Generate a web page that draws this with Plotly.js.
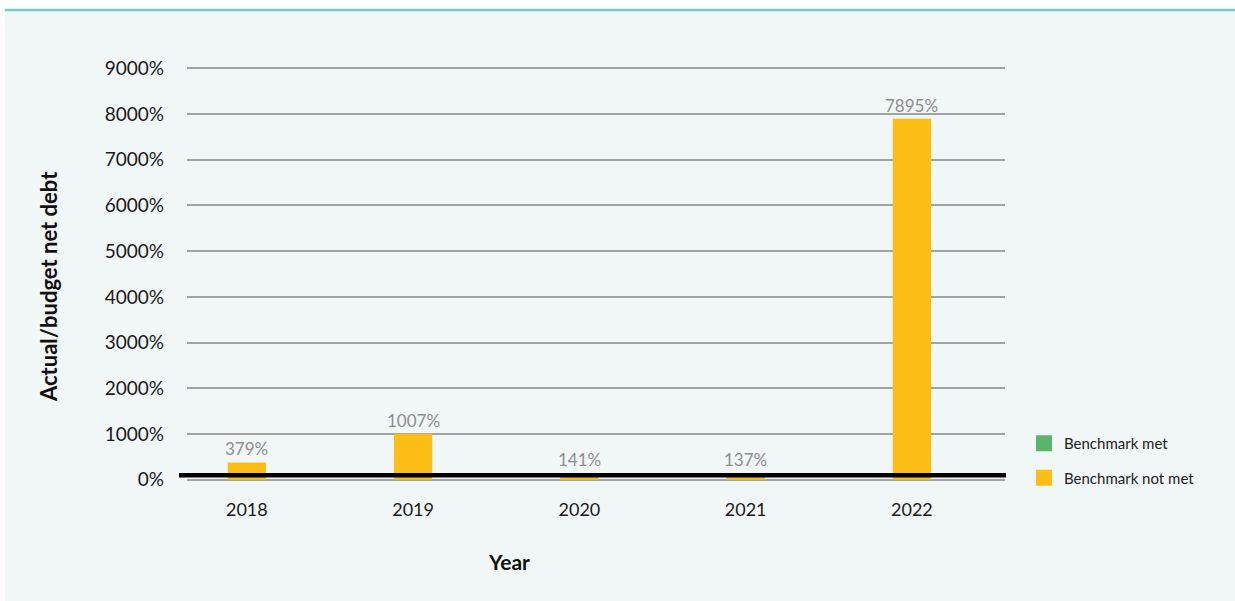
<!DOCTYPE html>
<html>
<head>
<meta charset="utf-8">
<script src="https://cdn.plot.ly/plotly-3.0.1.min.js"></script>
<style>html,body{margin:0;padding:0;background:#fff;}#chart{width:1235px;height:601px;}</style>
</head>
<body>
<div id="chart"></div>
<script>
const years = ['2018', '2019', '2020', '2021', '2022'];
const notMetValues = [379, 1007, 141, 137, 7895];
const metValues = [null, null, null, null, null];
const benchmark = 100;
const yTickVals = [0, 1000, 2000, 3000, 4000, 5000, 6000, 7000, 8000, 9000];
const yTickText = yTickVals.map(v => v + '%');
const seriesNames = ['Benchmark met', 'Benchmark not met'];
const seriesColors = ['#5BB46C', '#FCBE14'];

const W = 1235, H = 601;
const L = 187, R = 1005, T = 66, B = 482;
const pw = R - L, ph = B - T;
const px = x => (x - L) / pw;
const py = y => (B - y) / ph;

const font = 'Lato, "Open Sans", sans-serif';

const traces = [
  {
    type: 'bar', name: seriesNames[0], x: years, y: metValues,
    marker: {color: seriesColors[0]}, width: 0.23, showlegend: false,
    hoverinfo: 'skip'
  },
  {
    type: 'bar', name: seriesNames[1], x: years, y: notMetValues,
    marker: {color: seriesColors[1]}, width: 0.23, showlegend: false
  },
  // legend entries
  {
    type: 'scatter', mode: 'markers', name: seriesNames[0], x: [null], y: [null],
    marker: {symbol: 'square', size: 16, color: seriesColors[0]}, legendgroup: 'a'
  },
  {
    type: 'scatter', mode: 'markers', name: seriesNames[1], x: [null], y: [null],
    marker: {symbol: 'square', size: 16, color: seriesColors[1]}, legendgroup: 'b'
  }
];

const valueLabels = years.map((yr, i) => ({
  text: notMetValues[i] + '%', x: i, y: notMetValues[i], xref: 'x', yref: 'y',
  xanchor: 'center', yanchor: 'bottom', showarrow: false, yshift: 1,
  font: {family: font, size: 17, color: '#8E8E8E'}
}));

const layout = {
  width: W, height: H,
  margin: {l: L, r: W - R, t: T, b: H - B, pad: 0},
  paper_bgcolor: '#ffffff',
  plot_bgcolor: 'rgba(0,0,0,0)',
  font: {family: font, color: '#1a1a1a'},
  showlegend: true,
  barmode: 'overlay',
  xaxis: {
    type: 'category', range: [-0.36, 4.56], showgrid: false, zeroline: false,
    showline: false, ticks: '', tickfont: {family: font, size: 18, color: '#1a1a1a'},
    ticklabelstandoff: 15
  },
  yaxis: {
    range: [-50, 9050], tickvals: yTickVals, ticktext: yTickText,
    showgrid: true, gridcolor: '#A3A3A3', gridwidth: 2, zeroline: false,
    showline: false, ticks: '', ticklabelstandoff: 22,
    tickfont: {family: font, size: 19, color: '#1a1a1a'}
  },
  legend: {
    x: px(1024), xanchor: 'left', y: py(427), yanchor: 'top',
    bgcolor: 'rgba(0,0,0,0)', traceorder: 'grouped', tracegroupgap: 12,
    font: {family: font, size: 15, color: '#222'}
  },
  annotations: valueLabels.concat([
    {text: '<b>Year</b>', xref: 'paper', yref: 'paper', x: px(509), y: py(561),
     xanchor: 'center', yanchor: 'middle', showarrow: false,
     font: {family: font, size: 21, color: '#111'}},
    {text: '<b>Actual/budget net debt</b>', xref: 'paper', yref: 'paper', x: px(48), y: py(287),
     xanchor: 'center', yanchor: 'middle', showarrow: false, textangle: -90,
     font: {family: font, size: 22, color: '#111'}}
  ]),
  shapes: [
    {type: 'rect', xref: 'paper', yref: 'paper', x0: px(5), x1: px(1240), y0: py(10), y1: py(605),
     fillcolor: '#F1F6F6', line: {width: 0}, layer: 'below'},
    {type: 'line', xref: 'paper', yref: 'paper', x0: px(5), x1: px(1240), y0: py(10), y1: py(10),
     line: {color: '#79CAC0', width: 2.5}, layer: 'below'},
    {type: 'line', xref: 'paper', yref: 'y', x0: px(179), x1: px(1006), y0: benchmark, y1: benchmark,
     line: {color: '#000000', width: 4.5}, layer: 'above'}
  ]
};

Plotly.newPlot('chart', traces, layout, {displayModeBar: false, staticPlot: true});
</script>
</body>
</html>
